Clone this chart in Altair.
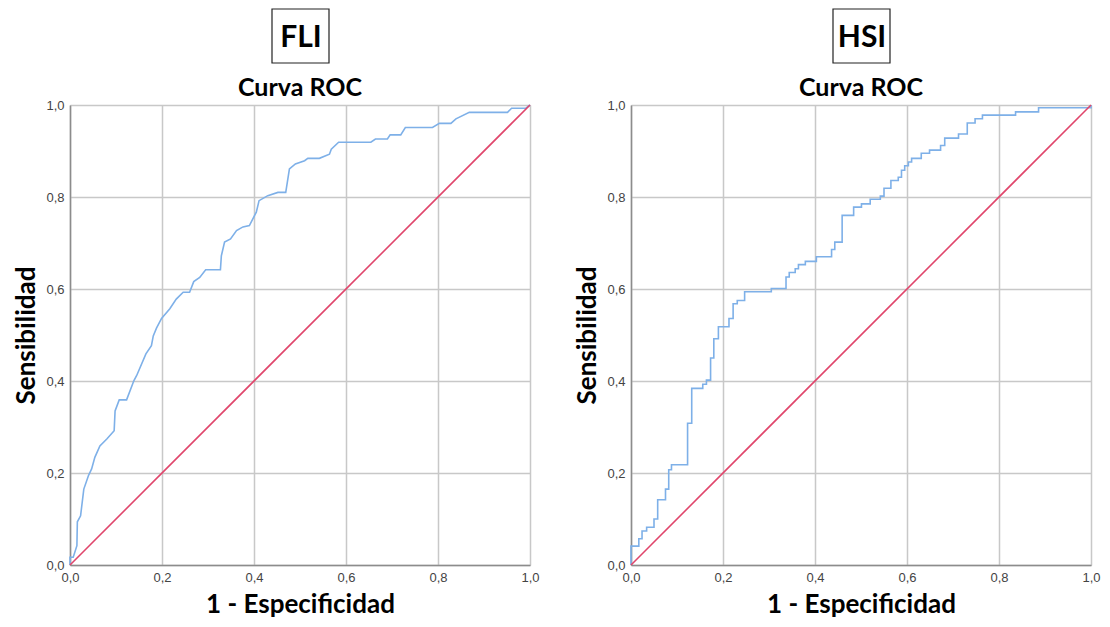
import altair as alt
import pandas as pd

# FLI ROC curve (1 - especificidad, sensibilidad)
fli_fpr = [0, 0, 0.007, 0.015, 0.016, 0.023, 0.030, 0.040, 0.047, 0.054,
           0.065, 0.080, 0.096, 0.098, 0.107, 0.123, 0.139, 0.145, 0.165, 0.177,
           0.181, 0.188, 0.199, 0.217, 0.231, 0.246, 0.260, 0.269, 0.282, 0.295,
           0.327, 0.329, 0.336, 0.349, 0.362, 0.376, 0.390, 0.405, 0.411, 0.430,
           0.452, 0.469, 0.477, 0.490, 0.510, 0.517, 0.542, 0.564, 0.568, 0.584,
           0.654, 0.664, 0.690, 0.696, 0.719, 0.729, 0.788, 0.803, 0.828, 0.839,
           0.868, 0.951, 0.960, 0.991, 1.0]
fli_tpr = [0, 0.017, 0.017, 0.042, 0.094, 0.107, 0.165, 0.194, 0.209, 0.234,
           0.259, 0.274, 0.292, 0.335, 0.359, 0.359, 0.401, 0.412, 0.459, 0.477,
           0.498, 0.515, 0.536, 0.557, 0.578, 0.593, 0.593, 0.616, 0.625, 0.642,
           0.642, 0.672, 0.702, 0.709, 0.727, 0.735, 0.738, 0.767, 0.792, 0.803,
           0.810, 0.810, 0.861, 0.872, 0.879, 0.884, 0.884, 0.893, 0.904, 0.919,
           0.919, 0.926, 0.926, 0.935, 0.935, 0.951, 0.951, 0.960, 0.960, 0.970,
           0.984, 0.984, 0.993, 0.993, 1.0]

# HSI ROC curve (step points)
hsi_fpr = [0, 0, 0.017, 0.024, 0.034, 0.050, 0.058, 0.075, 0.082, 0.088,
           0.123, 0.132, 0.156, 0.164, 0.173, 0.180, 0.190, 0.213, 0.222, 0.231,
           0.247, 0.305, 0.337, 0.344, 0.357, 0.364, 0.379, 0.403, 0.436, 0.443,
           0.459, 0.484, 0.501, 0.520, 0.542, 0.550, 0.565, 0.581, 0.588, 0.595,
           0.603, 0.610, 0.631, 0.649, 0.673, 0.682, 0.712, 0.731, 0.748, 0.764,
           0.836, 0.886, 1.0]
hsi_tpr = [0, 0.041, 0.057, 0.074, 0.082, 0.100, 0.142, 0.165, 0.207, 0.218,
           0.308, 0.384, 0.393, 0.402, 0.450, 0.492, 0.518, 0.536, 0.568, 0.575,
           0.594, 0.601, 0.626, 0.636, 0.644, 0.653, 0.660, 0.670, 0.686, 0.702,
           0.760, 0.778, 0.785, 0.795, 0.802, 0.819, 0.836, 0.843, 0.858, 0.868,
           0.876, 0.884, 0.895, 0.902, 0.912, 0.928, 0.937, 0.961, 0.970, 0.978,
           0.985, 0.994, 1.0]

diag_vals = [0.0, 1.0]
tick_vals = [0.0, 0.2, 0.4, 0.6, 0.8, 1.0]
panel_names = ["FLI", "HSI"]
subtitle = "Curva ROC"
x_title = "1 - Especificidad"
y_title = "Sensibilidad"

W, H = 460, 460
BLUE = "#7eb0e8"
RED = "#e0466c"
TITLE_FONT = "Lato"
LABEL_FONT = "Liberation Sans"

label_expr = "replace(format(datum.value, '.1f'), '.', ',')"


def axis(title, tsize, tpad):
    return alt.Axis(
        values=tick_vals, labelExpr=label_expr, title=title,
        grid=True, gridColor="#c8c8c8", gridWidth=1.5,
        domainColor="#8c8c8c", domainWidth=1.5, ticks=False,
        labelFont=LABEL_FONT, labelFontSize=13, labelColor="#444444",
        labelPadding=6, titleFont=TITLE_FONT, titleFontSize=tsize,
        titleFontWeight="bold", titleColor="#000000", titlePadding=tpad,
        labelFlush=False, labelOverlap=False,
    )


def panel(name, fpr, tpr, interp):
    df = pd.DataFrame({"fpr": fpr, "tpr": tpr, "i": range(len(fpr))})
    dg = pd.DataFrame({"fpr": diag_vals, "tpr": diag_vals})
    xs = alt.Scale(domain=[0, 1], nice=False)
    ys = alt.Scale(domain=[0, 1], nice=False)
    curve = alt.Chart(df).mark_line(color=BLUE, strokeWidth=1.6, interpolate=interp).encode(
        x=alt.X("fpr:Q", scale=xs, axis=axis(x_title, 26, 7)),
        y=alt.Y("tpr:Q", scale=ys, axis=axis(y_title, 26, 6)),
        order="i:Q",
    )
    diag = alt.Chart(dg).mark_line(color=RED, strokeWidth=1.6).encode(
        x=alt.X("fpr:Q", scale=xs), y=alt.Y("tpr:Q", scale=ys)
    )
    tdf = pd.DataFrame({"name": [name], "sub": [subtitle]})
    box = alt.Chart(tdf).mark_rect(fill="white", stroke="#222222", strokeWidth=1.2).encode(
        x=alt.value(W / 2 - 28), x2=alt.value(W / 2 + 29),
        y=alt.value(-96), y2=alt.value(-42),
    )
    big = alt.Chart(tdf).mark_text(
        font=TITLE_FONT, fontSize=30, fontWeight="bold", color="#000000",
        baseline="alphabetic", align="center",
    ).encode(x=alt.value(W / 2 + 1), y=alt.value(-58), text="name:N")
    sub = alt.Chart(tdf).mark_text(
        font=TITLE_FONT, fontSize=25, fontWeight="bold", color="#000000",
        baseline="alphabetic", align="center",
    ).encode(x=alt.value(W / 2), y=alt.value(-9), text="sub:N")
    return alt.layer(curve, diag, box, big, sub).properties(width=W, height=H)


left = panel(panel_names[0], fli_fpr, fli_tpr, "linear")
right = panel(panel_names[1], hsi_fpr, hsi_tpr, "step-after")

chart = alt.hconcat(left, right, spacing=34).properties(
    padding={"left": 5, "top": 0, "right": 0, "bottom": 0}
).configure_view(strokeWidth=0)

chart.save("out.html", embed_options={"renderer": "svg", "actions": False})
